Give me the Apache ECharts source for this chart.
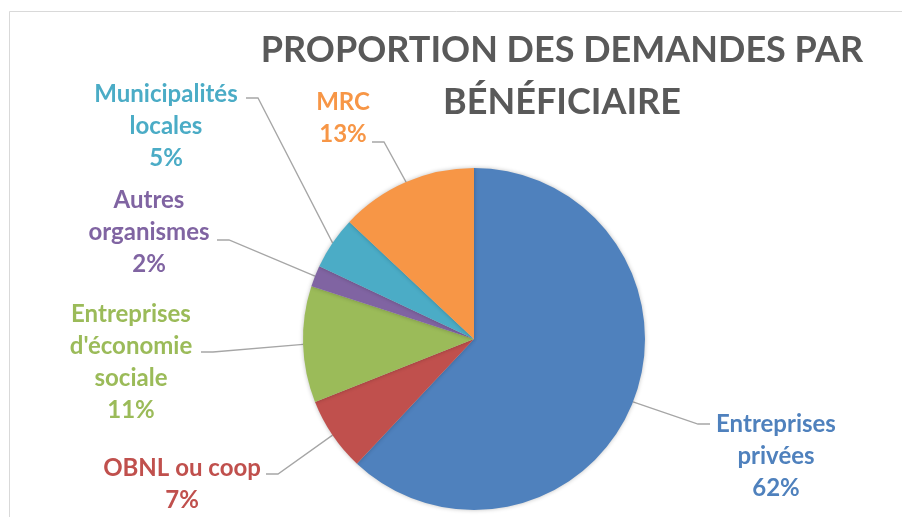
<!DOCTYPE html>
<html>
<head>
<meta charset="utf-8">
<script src="https://cdn.jsdelivr.net/npm/echarts@6/dist/echarts.min.js"></script>
<style>
  html, body { margin: 0; padding: 0; background: #fff; }
  #chart { width: 902px; height: 517px; }
</style>
</head>
<body>
<div id="chart"></div>
<script>
// catégories (avec les retours à la ligne des étiquettes)
const categories = [
  'Entreprises\nprivées',
  'OBNL ou coop',
  "Entreprises\nd'économie\nsociale",
  'Autres\norganismes',
  'Municipalités\nlocales',
  'MRC'
]
const values = [62, 7, 11, 2, 5, 13]
const colors = ['#4F81BD', '#C0504D', '#9BBB59', '#8064A2', '#4BACC6', '#F79646']

// emplacement des étiquettes (centre du bloc) et point d'attache de la ligne
const labelPos = [
  { x: 776, y: 456, lx: 710, ly: 424, side: 'right' },
  { x: 182, y: 484, lx: 266, ly: 474, side: 'left' },
  { x: 131, y: 362, lx: 201, ly: 352, side: 'left' },
  { x: 149, y: 232, lx: 217, ly: 240, side: 'left' },
  { x: 166, y: 126, lx: 246, ly: 98, side: 'left' },
  { x: 343, y: 118, lx: 372, ly: 142, side: 'left' }
]

const chart = echarts.init(document.getElementById('chart'))

const option = {
  backgroundColor: '#fff',
  animation: false,
  title: {
    text: 'PROPORTION DES DEMANDES PAR\nBÉNÉFICIAIRE',
    left: 557,
    top: 19,
    textAlign: 'center',
    textStyle: {
      fontFamily: 'Lato',
      fontWeight: 'bold',
      fontSize: 36,
      lineHeight: 52,
      color: '#595959'
    }
  },
  graphic: [{
    type: 'rect',
    shape: { x: 9.5, y: 11.5, width: 1000, height: 1000 },
    style: { fill: 'none', stroke: '#d9d9d9', lineWidth: 1 },
    silent: true
  }],
  series: [{
    type: 'pie',
    center: [474, 339],
    radius: 171,
    startAngle: 90,
    clockwise: true,
    percentPrecision: 0,
    data: categories.map((name, i) => ({
      name: name,
      value: values[i],
      itemStyle: { color: colors[i] },
      label: { color: colors[i] }
    })),
    itemStyle: {
      borderWidth: 0,
      shadowBlur: 4,
      shadowColor: 'rgba(0,0,0,0.25)'
    },
    label: {
      show: true,
      formatter: '{b}\n{d}%',
      fontFamily: 'Lato',
      fontWeight: 'bold',
      fontSize: 24,
      lineHeight: 32,
      align: 'center'
    },
    labelLine: {
      show: true,
      lineStyle: { color: '#a6a6a6', width: 1.3 }
    },
    labelLayout: function (params) {
      const p = labelPos[params.dataIndex]
      const anchor = params.labelLinePoints ? params.labelLinePoints[0] : [p.lx, p.ly]
      const elbowX = p.side === 'left' ? p.lx + 12 : p.lx - 12
      return {
        x: p.x,
        y: p.y,
        align: 'center',
        verticalAlign: 'middle',
        labelLinePoints: [anchor, [elbowX, p.ly], [p.lx, p.ly]]
      }
    }
  }]
}

chart.setOption(option)
</script>
</body>
</html>
